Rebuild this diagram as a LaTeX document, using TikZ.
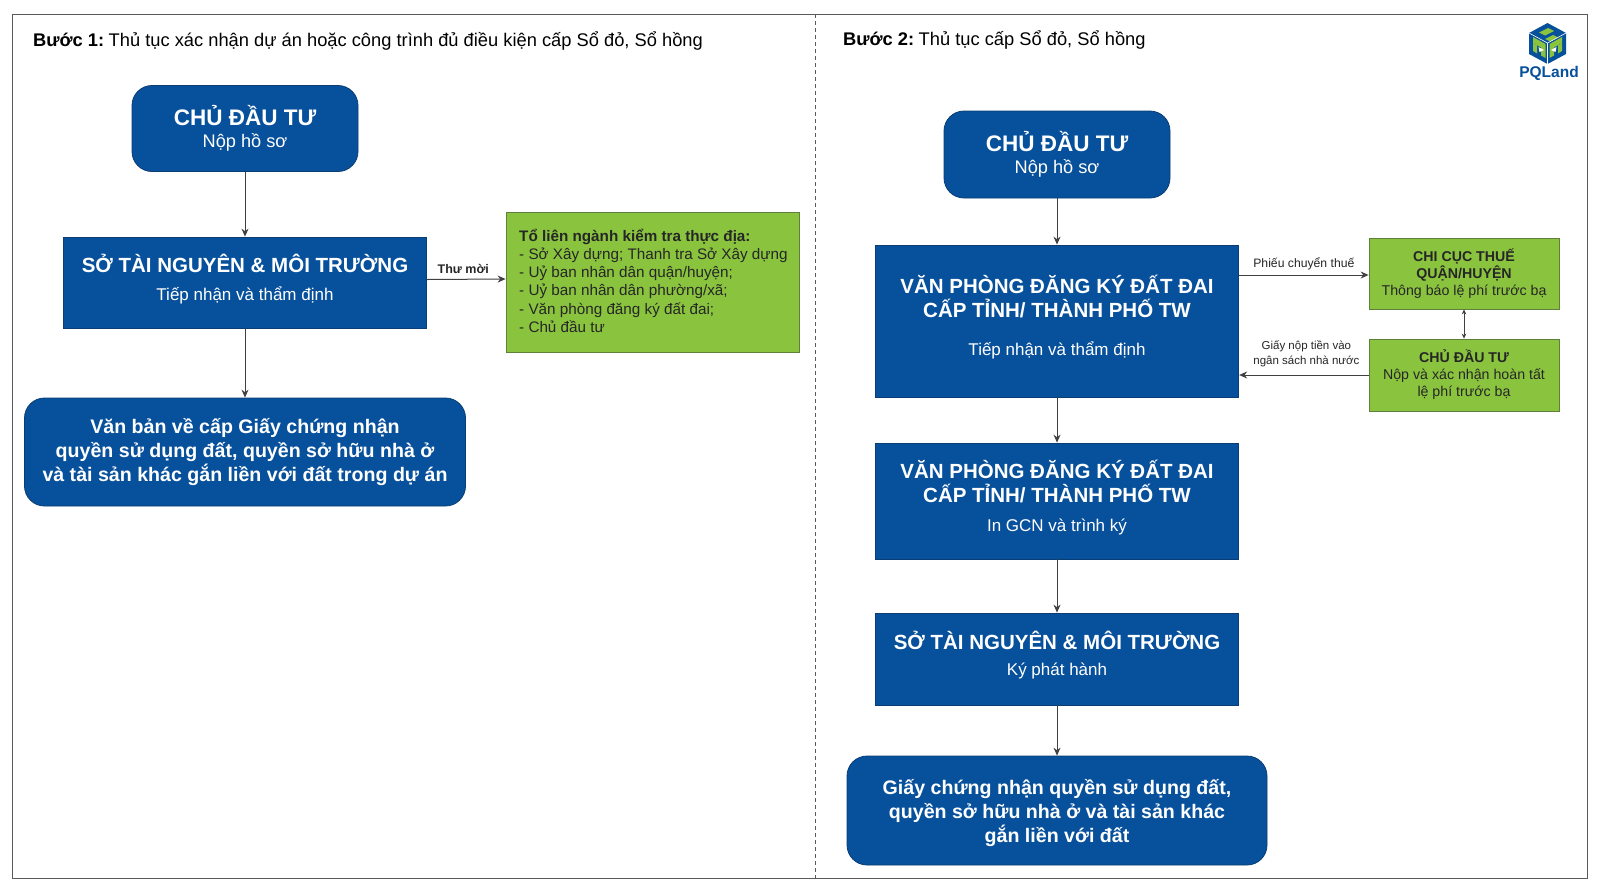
\documentclass[tikz,border=0pt]{standalone}
\usepackage{fontspec}
\usetikzlibrary{arrows.meta}
\setmainfont{Liberation Sans}
\definecolor{bluefill}{HTML}{07509B}
\definecolor{blueline}{HTML}{0A3D73}
\definecolor{greenfill}{HTML}{8AC43F}
\definecolor{greenline}{HTML}{5F7F3A}
\tikzset{
	bluebox/.style={draw=blueline,fill=bluefill,text=white,align=center,line width=0.8pt,inner sep=0pt,font=\fontsize{17}{24}\selectfont},
	blueround/.style={bluebox,rounded corners=20pt},
	greenbox/.style={draw=greenline,fill=greenfill,text=black,line width=0.8pt,inner sep=0pt},
	arrowline/.style={draw=black!75,line width=1pt,>={Stealth[length=8pt,width=7pt]}},
	smalllabel/.style={text=black!85,align=center,inner sep=0pt}
}
\newcommand{\headfont}{\fontsize{22.5}{25}\selectfont\bfseries}
\newcommand{\midfont}{\fontsize{20.5}{24.5}\selectfont\bfseries}
\newcommand{\bodyfont}{\fontsize{19.6}{23.5}\selectfont\bfseries}
\newcommand{\subfont}{\fontsize{17}{22}\selectfont}
\newcommand{\nopfont}{\fontsize{18.2}{22}\selectfont}
\begin{document}
\begin{tikzpicture}[x=1pt,y=-1pt,line cap=butt]
	\useasboundingbox (0,0) rectangle (1600,892);
	\fill[white] (0,0) rectangle (1600,892);
	\draw[black!65,line width=1pt] (12,14) rectangle (1587,878);
	\draw[black!65,dash pattern=on 4pt off 3pt,line width=1pt] (815,14)--(815,878);

	\node[anchor=west,inner sep=0pt,font=\fontsize{18.3}{22}\selectfont] (titleA) at (33,41.5) {\textbf{Bước 1:}\hspace{4.5pt}Thủ tục xác nhận dự án hoặc công trình đủ điều kiện cấp Sổ đỏ, Sổ hồng};
	\node[anchor=west,inner sep=0pt,font=\fontsize{18.3}{22}\selectfont] (titleB) at (843,40) {\textbf{Bước 2:}\hspace{4.5pt}Thủ tục cấp Sổ đỏ, Sổ hồng};

	% left column
	\node[blueround,minimum width=226pt,minimum height=86pt] (dautuA) at (245,128.5) {{\headfont CHỦ ĐẦU TƯ}\\[-2pt]{\nopfont Nộp hồ sơ}};
	\node[bluebox,minimum width=363pt,minimum height=91pt] (sotnA) at (245,282.5) {{\midfont SỞ TÀI NGUYÊN \& MÔI TRƯỜNG}\\[4pt]{\subfont Tiếp nhận và thẩm định}\\[-14pt]\mbox{}};
	\node[blueround,minimum width=441pt,minimum height=108pt] (vanban) at (245,452) {\bodyfont Văn bản về cấp Giấy chứng nhận\\\bodyfont quyền sử dụng đất, quyền sở hữu nhà ở\\\bodyfont và tài sản khác gắn liền với đất trong dự án};
	\node[greenbox,minimum width=293pt,minimum height=140pt] (tolien) at (652.5,282) {};
	\node[anchor=north west,inner sep=0pt,align=left,font=\fontsize{15.25}{18.3}\selectfont,text=black!85] (toliente) at (519,228.5) {\textbf{Tổ liên ngành kiểm tra thực địa:}\\- Sở Xây dựng; Thanh tra Sở Xây dựng\\- Uỷ ban nhân dân quận/huyện;\\- Uỷ ban nhân dân phường/xã;\\- Văn phòng đăng ký đất đai;\\- Chủ đầu tư};

	\draw[arrowline,->] (dautuA)--(sotnA);
	\draw[arrowline,->] (sotnA)--(vanban);
	\draw[arrowline,->] ([yshift=3pt]sotnA.east)--([yshift=3pt]tolien.west) node[midway,above=5pt,xshift=-3pt,inner sep=0pt,font=\fontsize{12.5}{15}\selectfont\bfseries,text=black!85] (thumoi) {Thư mời};

	% right column
	\node[blueround,minimum width=226pt,minimum height=87pt] (dautuB) at (1057,154.5) {{\headfont CHỦ ĐẦU TƯ}\\[-2pt]{\nopfont Nộp hồ sơ}};
	\node[bluebox,minimum width=363.5pt,minimum height=152pt] (vpA) at (1057,321) {{\midfont VĂN PHÒNG ĐĂNG KÝ ĐẤT ĐAI}\\{\midfont CẤP TỈNH/ THÀNH PHỐ TW}\\[14pt]{\subfont Tiếp nhận và thẩm định}\\[-12pt]\mbox{}};
	\node[bluebox,minimum width=363.5pt,minimum height=116pt] (vpB) at (1057,501) {{\midfont VĂN PHÒNG ĐĂNG KÝ ĐẤT ĐAI}\\{\midfont CẤP TỈNH/ THÀNH PHỐ TW}\\[5pt]{\subfont In GCN và trình ký}\\[-13pt]\mbox{}};
	\node[bluebox,minimum width=363.5pt,minimum height=92pt] (sotnB) at (1057,659) {{\midfont SỞ TÀI NGUYÊN \& MÔI TRƯỜNG}\\[2pt]{\subfont Ký phát hành}\\[-12pt]\mbox{}};
	\node[blueround,minimum width=420pt,minimum height=109pt] (giay) at (1057,810.5) {\mbox{}\\[-4pt]\bodyfont Giấy chứng nhận quyền sử dụng đất,\\\bodyfont quyền sở hữu nhà ở và tài sản khác\\\bodyfont gắn liền với đất};
	\node[greenbox,align=center,minimum width=190pt,minimum height=71pt,font=\fontsize{14.2}{17}\selectfont,text=black!85] (chicuc) at (1464,273.5) {\textbf{CHI CỤC THUẾ}\\\textbf{QUẬN/HUYỆN}\\Thông báo lệ phí trước bạ};
	\node[greenbox,align=center,minimum width=190pt,minimum height=72pt,font=\fontsize{14.2}{17}\selectfont,text=black!85] (dautuC) at (1464,375) {\textbf{CHỦ ĐẦU TƯ}\\Nộp và xác nhận hoàn tất\\lệ phí trước bạ};

	\draw[arrowline,->] (dautuB)--(vpA);
	\draw[arrowline,->] (vpA)--(vpB);
	\draw[arrowline,->] (vpB)--(sotnB);
	\draw[arrowline,->] (sotnB)--(giay);
	\draw[arrowline,->] ([yshift=-1.5pt]vpA.east |- chicuc.west)--([yshift=-1.5pt]chicuc.west) node[midway,above=4pt,smalllabel,font=\fontsize{12.2}{15}\selectfont] (phieu) {Phiếu chuyển thuế};
	\draw[arrowline,->] (dautuC.west)--(dautuC.west -| vpA.east) node[midway,above=8pt,xshift=2.5pt,smalllabel,font=\fontsize{11.5}{15}\selectfont] (nopTien) {Giấy nộp tiền vào\\ngân sách nhà nước};
	\draw[draw=black!75,line width=0.7pt,{Stealth[length=5pt,width=4.5pt]}-{Stealth[length=5pt,width=4.5pt]}] (chicuc.south)--(dautuC.north);

	% logo
	\fill[bluefill] (1547.5,23)--(1566,33)--(1566,54)--(1547.5,64)--(1529,54)--(1529,33)--cycle;
	\fill[greenfill] (1533,37)--(1545.5,44)--(1545.5,58)--(1541,55.5)--(1541,47.5)--(1533,43)--cycle;
	\fill[greenfill] (1533,43)--(1537,45.5)--(1537,53.5)--(1533,51)--cycle;
	\fill[white] (1538.5,47)--(1544,50)--(1539.5,52)--cycle;
	\fill[greenfill] (1562,37)--(1549.5,44)--(1549.5,58)--(1554,55.5)--(1554,47.5)--(1562,43)--cycle;
	\fill[greenfill] (1562,43)--(1558,45.5)--(1558,53.5)--(1562,51)--cycle;
	\fill[white] (1556.5,47)--(1551,50)--(1555.5,52)--cycle;
	\fill[greenfill] (1548,28)--(1554,31)--(1545,35.5)--(1539,32.5)--cycle;
	\fill[greenfill] (1553,35)--(1558,37.5)--(1550,41.5)--(1545,39)--cycle;
	\draw[white,line width=0.6pt] (1529,33)--(1547.5,43)--(1566,33) (1547.5,43)--(1547.5,64);
	\node[inner sep=0pt,text=bluefill,font=\fontsize{15.5}{18}\selectfont\bfseries] (pqland) at (1549,73) {PQLand};
\end{tikzpicture}
\end{document}
